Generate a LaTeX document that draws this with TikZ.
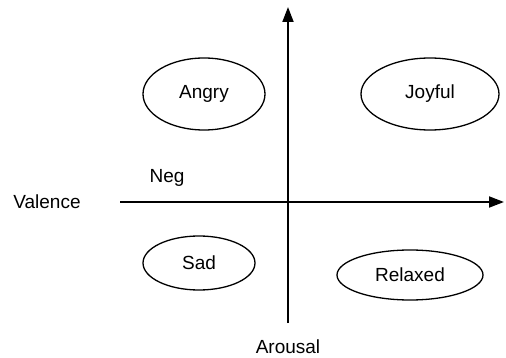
\documentclass[tikz,border=0pt]{standalone}
\usepackage{fontspec}
\setmainfont{Liberation Sans}
\usepackage{tikz}
\usetikzlibrary{arrows.meta,shapes.geometric}

\begin{document}
\begin{tikzpicture}[x=1pt, y=-1pt,
  emo/.style={draw, ellipse, line width=1.3pt, inner sep=0pt, font=\fontsize{19}{22}\selectfont},
  lbl/.style={font=\fontsize{19}{22}\selectfont},
  axis/.style={-{Triangle[length=15pt, width=11pt]}, line width=1.8pt},
]
\useasboundingbox (0,0) rectangle (506,358);

\node[emo, minimum width=122pt, minimum height=72pt] (angry)   at (204,94)  {Angry};
\node[emo, minimum width=138pt, minimum height=72pt] (joyful)  at (430,94)  {Joyful};
\node[emo, minimum width=112pt, minimum height=54pt] (sad)     at (199,263) {Sad};
\node[emo, minimum width=146pt, minimum height=50pt] (relaxed) at (410,275) {Relaxed};

\node[lbl] (neg)     at (167,178) {Neg};
\node[lbl] (valence) at (47,202)  {Valence};
\node[lbl] (arousal) at (288,347) {Arousal};

\coordinate (vbot)   at (288,323);
\coordinate (vtop)   at (288,7);
\coordinate (hleft)  at (120,202);
\coordinate (hright) at (504,202);

\draw[axis] (vbot) -- (vtop);
\draw[axis] (hleft) -- (hright);
\end{tikzpicture}
\end{document}
